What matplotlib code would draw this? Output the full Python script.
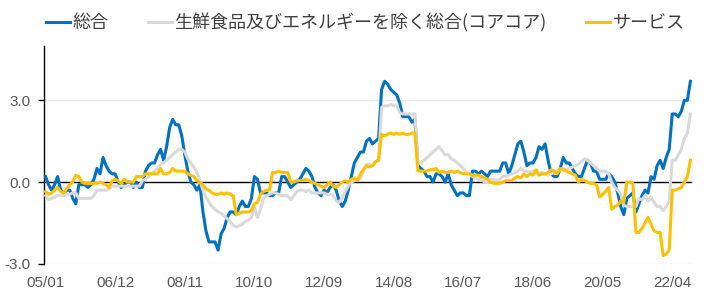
import numpy as np
import matplotlib
matplotlib.use("Agg")
import matplotlib.pyplot as plt

plt.rcParams['font.family'] = ['Liberation Sans', 'Noto Sans CJK JP', 'DejaVu Sans']

# monthly data, 2005/01 - 2022/10 (前年比, %)
headline = [
    0.2, -0.1, -0.3, -0.1, 0.2, -0.3, -0.4, -0.3, -0.3, -0.6, -0.8, -0.1,   # 2005
    -0.1, -0.1, -0.2, -0.1, 0.1, 0.5, 0.3, 0.9, 0.6, 0.4, 0.3, 0.3,         # 2006
    0.0, -0.2, -0.1, 0.0, 0.0, -0.2, 0.0, -0.2, -0.2, 0.4, 0.6, 0.7,        # 2007
    0.7, 1.0, 1.2, 0.8, 1.3, 2.0, 2.3, 2.1, 2.1, 1.7, 1.0, 0.4,             # 2008
    0.0, -0.1, -0.3, -0.1, -1.1, -1.8, -2.2, -2.2, -2.2, -2.5, -1.9, -1.7,  # 2009
    -1.3, -1.1, -1.1, -1.2, -0.9, -0.7, -0.9, -0.9, -0.6, 0.2, 0.1, -0.4,   # 2010
    -0.4, -0.4, -0.5, -0.5, -0.4, -0.4, 0.2, 0.2, 0.0, -0.2, -0.1, 0.0,     # 2011
    0.1, 0.3, 0.5, 0.4, 0.2, -0.2, -0.4, -0.5, -0.3, -0.4, -0.2, -0.1,      # 2012
    -0.3, -0.7, -0.9, -0.7, -0.3, 0.2, 0.7, 0.9, 1.1, 1.1, 1.5, 1.6,        # 2013
    1.4, 1.5, 1.6, 3.4, 3.7, 3.6, 3.4, 3.3, 3.2, 2.9, 2.4, 2.4,             # 2014
    2.4, 2.2, 2.3, 0.6, 0.5, 0.4, 0.2, 0.2, 0.0, 0.3, 0.3, 0.2,             # 2015
    0.0, 0.3, -0.1, -0.3, -0.5, -0.4, -0.4, -0.5, -0.5, 0.4, 0.4, 0.3,      # 2016
    0.4, 0.3, 0.2, 0.4, 0.4, 0.4, 0.4, 0.7, 0.7, 0.3, 0.6, 1.0,             # 2017
    1.4, 1.5, 1.1, 0.6, 0.7, 0.7, 0.9, 1.3, 1.2, 1.4, 0.8, 0.3,             # 2018
    0.2, 0.2, 0.5, 0.9, 0.7, 0.7, 0.5, 0.3, 0.2, 0.2, 0.5, 0.8,             # 2019
    0.7, 0.4, 0.4, 0.1, 0.1, 0.1, 0.3, 0.2, 0.0, -0.4, -0.9, -1.2,          # 2020
    -0.6, -0.5, -0.4, -1.1, -0.8, -0.5, -0.3, -0.4, 0.2, 0.1, 0.6, 0.8,     # 2021
    0.5, 0.9, 1.2, 2.5, 2.5, 2.4, 2.6, 3.0, 3.0, 3.7,                       # 2022
]

core_core = [
    -0.5, -0.65, -0.6, -0.55, -0.5, -0.5, -0.5, -0.45, -0.45, -0.4, -0.4, -0.6,
    -0.6, -0.6, -0.6, -0.6, -0.5, -0.3, -0.3, -0.3, -0.3, -0.25, -0.15, -0.15,
    -0.15, -0.15, -0.15, -0.15, -0.15, -0.15, -0.15, -0.15, 0.05, 0.1, 0.2, 0.3,
    0.4, 0.5, 0.65, 0.7, 0.8, 0.9, 1.0, 1.1, 1.2, 1.2, 1.1, 0.85,
    0.7, 0.55, 0.35, 0.05, -0.3, -0.55, -0.75, -0.9, -1.0, -1.1, -1.15, -1.25,
    -1.35, -1.45, -1.6, -1.65, -1.6, -1.55, -1.45, -1.4, -1.3, -0.9, -1.3, -1.0,
    -0.6, -0.5, -0.45, -0.4, -0.4, -0.45, -0.5, -0.5, -0.5, -0.65, -0.5, -0.35,
    -0.3, -0.3, -0.35, -0.3, -0.4, -0.4, -0.4, -0.4, -0.4, -0.45, -0.45, -0.5,
    -0.7, -0.75, -0.55, -0.35, -0.15, 0.0, 0.05, 0.1, 0.15, 0.4, 0.65, 0.65,
    0.6, 0.75, 0.8, 2.75, 2.8, 2.8, 2.85, 2.8, 2.8, 2.55, 2.5, 2.5,
    2.5, 2.5, 2.5, 0.7, 0.7, 0.8, 0.9, 1.0, 1.1, 1.2, 1.3, 1.15,
    1.0, 1.0, 0.85, 0.8, 0.7, 0.6, 0.5, 0.35, 0.3, 0.2, 0.15, 0.1,
    0.1, 0.0, 0.0, 0.1, 0.1, 0.05, 0.1, 0.2, 0.2, 0.25, 0.3, 0.35,
    0.4, 0.5, 0.4, 0.4, 0.35, 0.4, 0.35, 0.3, 0.35, 0.3, 0.25, 0.3,
    0.35, 0.4, 0.45, 0.5, 0.45, 0.5, 0.55, 0.6, 0.65, 0.75, 0.85, 0.8,
    0.7, 0.6, 0.5, 0.4, 0.4, 0.4, 0.3, 0.0, -0.2, -0.3, -0.45, -0.85,
    -0.9, -0.9, -0.9, -0.9, -0.6, -0.65, -0.5, -0.7, -0.55, -0.75, -0.9, -0.9,
    -1.05, -0.9, -0.7, 0.8, 0.8, 1.0, 1.2, 1.6, 1.8, 2.5,
]

services = [
    -0.35, -0.45, -0.4, -0.3, -0.2, -0.35, -0.4, -0.25, -0.1, 0.0, 0.25, 0.2,
    0.0, -0.05, -0.05, -0.05, -0.05, -0.05, 0.0, -0.05, -0.1, -0.2, 0.05, 0.1,
    0.05, -0.05, 0.1, 0.0, 0.0, 0.0, 0.2, 0.2, 0.2, 0.3, 0.3, 0.3,
    0.3, 0.3, 0.5, 0.3, 0.3, 0.35, 0.5, 0.4, 0.4, 0.4, 0.4, 0.3,
    0.25, 0.2, 0.05, 0.0, -0.1, -0.25, -0.3, -0.4, -0.45, -0.45, -0.4, -0.45,
    -0.4, -0.45, -0.5, -1.2, -1.15, -1.1, -1.1, -1.1, -1.05, -0.8, -0.75, -0.45,
    -0.35, -0.3, -0.3, 0.35, 0.35, 0.4, 0.35, 0.35, 0.35, 0.0, 0.0, 0.05,
    0.05, 0.05, 0.1, 0.05, 0.0, -0.05, -0.1, -0.15, -0.2, -0.1, 0.0, -0.15,
    -0.2, -0.1, 0.0, 0.05, 0.0, 0.1, 0.15, 0.05, 0.3, 0.45, 0.6, 0.55,
    0.6, 0.75, 0.8, 1.75, 1.7, 1.75, 1.8, 1.75, 1.8, 1.75, 1.8, 1.75,
    1.75, 1.8, 1.8, 0.4, 0.4, 0.4, 0.4, 0.45, 0.45, 0.5, 0.35, 0.4,
    0.35, 0.35, 0.4, 0.35, 0.4, 0.35, 0.3, 0.3, 0.3, 0.25, 0.25, 0.25,
    0.2, 0.15, 0.1, 0.0, -0.05, -0.05, -0.05, 0.0, 0.05, 0.05, 0.05, 0.15,
    0.2, 0.15, 0.3, 0.2, 0.3, 0.25, 0.45, 0.25, 0.3, 0.3, 0.35, 0.45,
    0.4, 0.3, 0.5, 0.45, 0.4, 0.35, 0.3, 0.25, 0.0, 0.1, 0.05, 0.0,
    -0.05, -0.05, -0.1, -0.55, -0.45, -0.35, -0.2, -1.0, -0.9, -0.85, -0.7, -0.75,
    0.0, 0.0, -0.05, -1.85, -1.85, -1.7, -1.5, -1.3, -1.55, -1.8, -1.85, -1.85,
    -2.7, -2.65, -2.5, -0.3, -0.3, -0.25, -0.2, 0.0, 0.2, 0.8,
]

tick_labels = ['05/01', '06/12', '08/11', '10/10', '12/09',
               '14/08', '16/07', '18/06', '20/05', '22/04']

x = np.arange(len(headline))

fig = plt.figure(figsize=(7.12, 3.0), dpi=100)
ax = fig.add_axes([0.0618, 0.121, 0.910, 0.726])

ax.plot(x, headline, color='#0070C0', lw=2.2, label='総合', zorder=3)
ax.plot(x, core_core, color='#D9D9D9', lw=2.2, label='生鮮食品及びエネルギーを除く総合(コアコア)', zorder=3)
ax.plot(x, services, color='#FFC000', lw=2.2, label='サービス', zorder=3)

ax.axhline(0, color='black', lw=1.0, zorder=2)
for g in (-3, 3):
    ax.axhline(g, color='#E8E8E8', lw=1.0, zorder=1)

ax.set_xlim(-0.5, len(headline) - 0.5)
ax.set_ylim(-3, 5)
ax.set_yticks([-3, 0, 3])
ax.set_yticklabels(['-3.0', '0.0', '3.0'])
ax.set_xticks(np.arange(0, len(headline), 23))
ax.set_xticklabels(tick_labels)

for s in ('top', 'right', 'bottom'):
    ax.spines[s].set_visible(False)
ax.spines['left'].set_linewidth(1.0)
ax.tick_params(axis='y', length=4, width=1, pad=6, labelsize=11, labelcolor='#595959')
ax.tick_params(axis='x', length=0, pad=9, labelsize=11, labelcolor='#595959')

fig.legend(loc='upper center', bbox_to_anchor=(0.513, 1.01), ncol=3, frameon=False,
           handlelength=1.3, handletextpad=0.15, columnspacing=2.2,
           prop={'family': ['Noto Sans CJK JP'], 'size': 13}, labelcolor='#404040')

fig.savefig('out.png', dpi=100)
